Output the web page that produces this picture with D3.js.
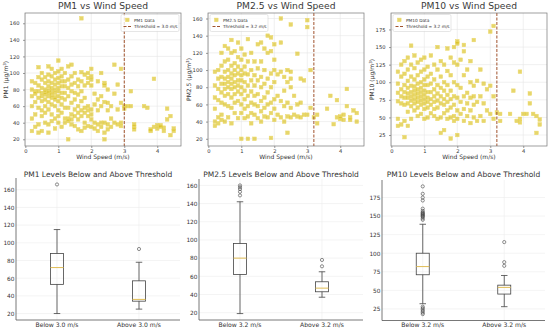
<!DOCTYPE html>
<html><head><meta charset="utf-8">
<script src="https://cdn.jsdelivr.net/npm/d3@7"></script>
<style>body{margin:0;background:#fff}svg{display:block}text{font-family:"DejaVu Sans",sans-serif}</style>
</head><body><svg id="c" width="550" height="330"></svg>
<script>
// ---------- DATA ----------
const windSteps = [0.2,0.3,0.4,0.5,0.6,0.7,0.8,0.9,1.0,1.1,1.2,1.3,1.4,1.5,1.6,1.7,1.8,1.9,2.0,2.1,2.2,2.3,2.4,2.5,2.6,2.7,2.8,2.9,3.0,3.1];
const pm1Rows = [
 [90,80,72,60,45,30],[88,78,75,65,50,35],[107,95,85,78,70,58,38,28],[100,92,82,76,72,66,55,48,30],
 [95,88,80,77,74,68,60,52,40],[108,98,90,84,79,76,72,65,56,38,28],[105,96,88,82,78,74,70,62,50,42],
 [100,92,86,80,76,71,68,60,45,33],[115,102,94,88,82,78,72,66,55,48,40],[105,96,90,84,76,70,62,52,35],
 [100,90,84,76,68,58,45,40],[108,92,82,72,58,45,42,20],[110,96,86,78,64,50,44,38],[100,88,76,68,56,48,36],
 [92,84,74,60,52,44,32],[166,101,90,78,66,55,48,30],[98,85,70,58,52,40,34],[100,94,88,60,55,48,36],
 [105,96,92,85,56,50,44,35],[75,62,40,33],[90,68,55,38,30],[100,72,60,40,35],[88,85,65,40,28,20],
 [80,64,55,38,32],[60,45,35],[110,75,40],[86,56,38],[105,64,40,36],[57,60],[60]
];
const pm1AboveWind = [3.2,3.2,3.3,3.3,3.3,3.6,3.7,3.8,3.8,3.9,3.9,4.0,4.0,4.1,4.1,4.2,4.2,4.3,4.3,4.4,4.4,4.5,4.5];
const pm1AboveVals = [78,60,35,38,32,60,58,30,32,93,35,37,33,37,35,30,34,57,44,48,25,33,30];

const pm25Rows = [
 [98,82,68,55,40,35],[100,90,78,65,45,38],[120,105,92,84,74,62,48,42],[128,110,98,90,84,78,70,60,40],
 [125,112,100,92,86,80,72,58,45],[135,120,105,96,90,84,78,68,56,38],[122,108,100,94,86,80,72,62,50],
 [132,115,104,96,88,82,75,64,44],[125,112,100,94,88,80,72,60,50,20],[118,104,96,86,76,66,55,44],
 [136,110,95,82,70,58,46,20],[120,100,88,75,62,50,38],[110,94,82,70,60,48,20],[130,102,88,72,58,44],
 [132,110,92,80,64,52,40],[125,100,84,68,56,46],[140,120,90,74,60,45],[138,122,96,80,62,50,21],
 [130,112,100,86,66,55,42],[95,70,48],[160,132,98,64,45],[92,76,58,40],[100,86,62,46,27],
 [153,98,90,80,56,45],[70,48],[119,60,46],[90,62,45],[88,48],[158,150,48],[100,56]
];
const pm25AboveWind = [3.2,3.3,3.3,3.6,3.7,3.8,3.9,3.9,4.0,4.0,4.1,4.1,4.2,4.2,4.3,4.3,4.4,4.5,4.5];
const pm25AboveVals = [45,48,38,55,70,37,65,45,43,46,48,42,78,58,45,42,53,50,40];

const pm10Rows = [
 [115,98,85,73,48,38],[125,108,90,80,70,40],[130,112,96,86,78,68,45,22],[135,118,102,92,84,78,70,58,38],
 [152,125,108,95,86,80,74,66,48],[138,120,104,94,88,82,76,70,60],[128,110,98,90,84,78,72,64,52],
 [132,115,100,92,86,80,74,68,55],[135,118,104,96,88,82,76,70,62,48],[122,108,96,86,78,72,64,50],
 [138,112,98,86,76,68,56],[125,104,90,80,72,62,52],[150,118,96,84,74,64,48],[130,108,92,80,70,50,28],
 [125,100,88,76,68,56,32],[148,116,96,82,72,60,48],[135,110,88,76,64,50,20],[150,128,100,80,68,52,45],
 [158,155,125,96,78,60,48,25],[132,92,72,55],[153,144,110,80,62,45],[118,85,70,52],[130,100,78,60,42],
 [160,95,80,68,50],[102,72,45],[118,80,52],[98,70,45],[90,60],[172,95,55],[180,80,48]
];
const pm10AboveWind = [3.2,3.3,3.3,3.6,3.7,3.8,3.9,3.9,3.9,4.0,4.1,4.2,4.2,4.3,4.4,4.4,4.5,4.5];
const pm10AboveVals = [57,55,45,55,88,45,115,43,48,55,55,84,70,55,52,28,47,40];

const thresholds = [3.0, 3.2, 3.2];
const boxCategories = [["Below 3.0 m/s","Above 3.0 m/s"],["Below 3.2 m/s","Above 3.2 m/s"],["Below 3.2 m/s","Above 3.2 m/s"]];
// [whiskerLow, q1, median, q3, whiskerHigh]
const pm1BoxStats = [[20,53,72,88,115],[25,34,36,57,78]];
const pm1Outliers = [[166],[93]];
const pm25BoxStats = [[19,62,80,96,142],[37,43,47,54,65]];
const pm25Outliers = [[149,153,156,158,160],[71,78]];
const pm10BoxStats = [[32,71,82,100,139],[28,45,54,57,70]];
const pm10Outliers = [[145,147,149,150,151,152,153,154,155,157,160,171,175,180,190,18,20,22,24,26,28],[83,88,115]];
const yTicks20 = [20,40,60,80,100,120,140,160];
const yTicks25 = [25,50,75,100,125,150,175];
const windTicks = [0,1,2,3,4];

// ---------- DRAW ----------
const svg = d3.select("#c");
const ptFill = "#d6bb0a", ptStroke = "#ecd867", thrColor = "#a0522d";

function rowsToPoints(rows, aw, av){
  const pts = [];
  rows.forEach((r,i)=>r.forEach(v=>pts.push([windSteps[i], v])));
  aw.forEach((w,i)=>pts.push([w, av[i]]));
  return pts;
}

function scatter(o){
  const g = svg.append("g");
  const x = d3.scaleLinear().domain([-0.01,4.72]).range([o.l,o.r]);
  const y = d3.scaleLinear().domain(o.yd).range([o.b,o.t]);
  g.selectAll(".gx").data(windTicks).join("line").attr("x1",d=>x(d)).attr("x2",d=>x(d)).attr("y1",o.t).attr("y2",o.b).attr("stroke","#e6e6e6").attr("stroke-width",0.6);
  g.selectAll(".gy").data(o.yt).join("line").attr("x1",o.l).attr("x2",o.r).attr("y1",d=>y(d)).attr("y2",d=>y(d)).attr("stroke","#e6e6e6").attr("stroke-width",0.6);
  g.append("g").selectAll("rect").data(o.pts).join("rect")
    .attr("x",d=>x(d[0])-1.8).attr("y",d=>y(d[1])-1.8).attr("width",3.6).attr("height",3.6)
    .attr("fill",ptFill).attr("fill-opacity",0.6).attr("stroke",ptStroke).attr("stroke-width",0.5);
  g.append("line").attr("x1",x(o.thr)).attr("x2",x(o.thr)).attr("y1",o.t).attr("y2",o.b)
    .attr("stroke",thrColor).attr("stroke-width",1).attr("stroke-dasharray","3,1.5");
  const ax = g.append("g").attr("transform",`translate(0,${o.b})`).call(d3.axisBottom(x).tickValues(windTicks).tickSize(2).tickFormat(d3.format("d")));
  const ay = g.append("g").attr("transform",`translate(${o.l},0)`).call(d3.axisLeft(y).tickValues(o.yt).tickSize(2));
  [ax,ay].forEach(a=>{a.select(".domain").remove();a.selectAll("line").attr("stroke","#555").attr("stroke-width",0.6);
    a.selectAll("text").attr("font-size",5.2).attr("fill","#333");});
  ay.selectAll("text").attr("dx",-0.5);
  ax.selectAll("text").attr("dy",1.5);
  g.append("rect").attr("x",o.l).attr("y",o.t).attr("width",o.r-o.l).attr("height",o.b-o.t).attr("fill","none").attr("stroke","#777").attr("stroke-width",0.7);
  g.append("text").attr("x",(o.l+o.r)/2).attr("y",9).attr("text-anchor","middle").attr("font-size",9.2).attr("fill","#3a3a3a").text(o.title);
  g.append("text").attr("x",(o.l+o.r)/2).attr("y",158.5).attr("text-anchor","middle").attr("font-size",6).attr("fill","#333").text("Wind Speed (m/s)");
  const yl = g.append("text").attr("transform",`translate(${o.l-17},${(o.t+o.b)/2}) rotate(-90)`).attr("text-anchor","middle").attr("font-size",6).attr("fill","#333");
  yl.append("tspan").text(o.yname+" (μg/m");
  yl.append("tspan").attr("font-size",4).attr("dy",-2).text("3");
  yl.append("tspan").attr("dy",2).text(")");
  const lx = o.legRight ? o.r-60 : o.l+2, lw = 58;
  const lg = g.append("g").attr("transform",`translate(${lx},${o.t+1.5})`);
  lg.append("rect").attr("width",lw).attr("height",17).attr("rx",1.5).attr("fill","#fff").attr("fill-opacity",0.8).attr("stroke","#ccc").attr("stroke-width",0.5);
  lg.append("rect").attr("x",4.5).attr("y",3.6).attr("width",3.6).attr("height",3.6).attr("fill",ptFill).attr("fill-opacity",0.6).attr("stroke",ptStroke).attr("stroke-width",0.5);
  lg.append("line").attr("x1",2.5).attr("x2",10).attr("y1",12).attr("y2",12).attr("stroke",thrColor).attr("stroke-width",1).attr("stroke-dasharray","3,1.5");
  lg.append("text").attr("x",13).attr("y",7).attr("font-size",4.3).attr("fill","#333").text(o.yname+" Data");
  lg.append("text").attr("x",13).attr("y",13.6).attr("font-size",4.3).attr("fill","#333").text(`Threshold = ${o.thr.toFixed(1)} m/s`);
}

scatter({l:25,r:181,t:13,b:146,yd:[11.9,172.4],yt:yTicks20,pts:rowsToPoints(pm1Rows,pm1AboveWind,pm1AboveVals),thr:thresholds[0],title:"PM1 vs Wind Speed",yname:"PM1",legRight:true});
scatter({l:208,r:364,t:13,b:146,yd:[11.6,166.4],yt:yTicks20,pts:rowsToPoints(pm25Rows,pm25AboveWind,pm25AboveVals),thr:thresholds[1],title:"PM2.5 vs Wind Speed",yname:"PM2.5",legRight:false});
scatter({l:391,r:547,t:13,b:146,yd:[9.4,198.4],yt:yTicks25,pts:rowsToPoints(pm10Rows,pm10AboveWind,pm10AboveVals),thr:thresholds[2],title:"PM10 vs Wind Speed",yname:"PM10",legRight:false});

function boxPanel(o){
  const g = svg.append("g");
  const x = d3.scaleBand().domain(o.cats).range([o.l,o.r]).paddingInner(0).paddingOuter(0);
  const y = d3.scaleLinear().domain(o.yd).range([o.b,o.t]);
  const yt = o.yt;
  g.selectAll(".gy").data(yt).join("line").attr("x1",o.l).attr("x2",o.r).attr("y1",d=>y(d)).attr("y2",d=>y(d)).attr("stroke","#ececec").attr("stroke-width",0.6);
  g.selectAll(".gx").data(o.cats).join("line").attr("x1",d=>x(d)+x.bandwidth()/2).attr("x2",d=>x(d)+x.bandwidth()/2).attr("y1",o.t).attr("y2",o.b).attr("stroke","#ececec").attr("stroke-width",0.6);
  g.append("line").attr("x1",o.l).attr("x2",o.l).attr("y1",o.t).attr("y2",o.b).attr("stroke","#555").attr("stroke-width",0.8);
  g.append("line").attr("x1",o.l).attr("x2",o.r).attr("y1",o.b).attr("y2",o.b).attr("stroke","#555").attr("stroke-width",0.8);
  const ay = g.append("g").attr("transform",`translate(${o.l},0)`).call(d3.axisLeft(y).tickValues(yt).tickSize(0).tickPadding(1.5));
  ay.select(".domain").remove(); ay.selectAll("text").attr("font-size",5.8).attr("fill","#333");
  const ax = g.append("g").attr("transform",`translate(0,${o.b})`).call(d3.axisBottom(x).tickSize(0).tickPadding(2.5));
  ax.select(".domain").remove(); ax.selectAll("text").attr("font-size",6.1).attr("fill","#333");
  const bw = 13, cw = 6.5;
  o.cats.forEach((c,i)=>{
    const cx = x(c)+x.bandwidth()/2, s = o.stats[i];
    const bg = g.append("g").attr("stroke","#444").attr("stroke-width",0.8).attr("fill","none");
    bg.append("line").attr("x1",cx).attr("x2",cx).attr("y1",y(s[0])).attr("y2",y(s[1]));
    bg.append("line").attr("x1",cx).attr("x2",cx).attr("y1",y(s[3])).attr("y2",y(s[4]));
    bg.append("line").attr("x1",cx-cw/2).attr("x2",cx+cw/2).attr("y1",y(s[0])).attr("y2",y(s[0]));
    bg.append("line").attr("x1",cx-cw/2).attr("x2",cx+cw/2).attr("y1",y(s[4])).attr("y2",y(s[4]));
    bg.append("rect").attr("x",cx-bw/2).attr("y",y(s[3])).attr("width",bw).attr("height",y(s[1])-y(s[3]));
    g.append("line").attr("x1",cx-bw/2).attr("x2",cx+bw/2).attr("y1",y(s[2])).attr("y2",y(s[2])).attr("stroke","#e0bc55").attr("stroke-width",1);
    g.selectAll(null).data(o.out[i]).join("circle").attr("cx",cx).attr("cy",d=>y(d)).attr("r",1.6).attr("fill","none").attr("stroke","#444").attr("stroke-width",0.6);
  });
  g.append("text").attr("x",(o.l+o.r)/2).attr("y",176.5).attr("text-anchor","middle").attr("font-size",7.5).attr("fill","#333").text(o.title);
}
boxPanel({l:16,r:180,t:178,b:320,yd:[12.7,173.3],yt:yTicks20,cats:boxCategories[0],stats:pm1BoxStats,out:pm1Outliers,title:"PM1 Levels Below and Above Threshold"});
boxPanel({l:199,r:363,t:179,b:320,yd:[11.95,167.05],yt:yTicks20,cats:boxCategories[1],stats:pm25BoxStats,out:pm25Outliers,title:"PM2.5 Levels Below and Above Threshold"});
boxPanel({l:382,r:545,t:180,b:320.5,yd:[9.4,198.6],yt:yTicks25,cats:boxCategories[2],stats:pm10BoxStats,out:pm10Outliers,title:"PM10 Levels Below and Above Threshold"});
</script></body></html>
